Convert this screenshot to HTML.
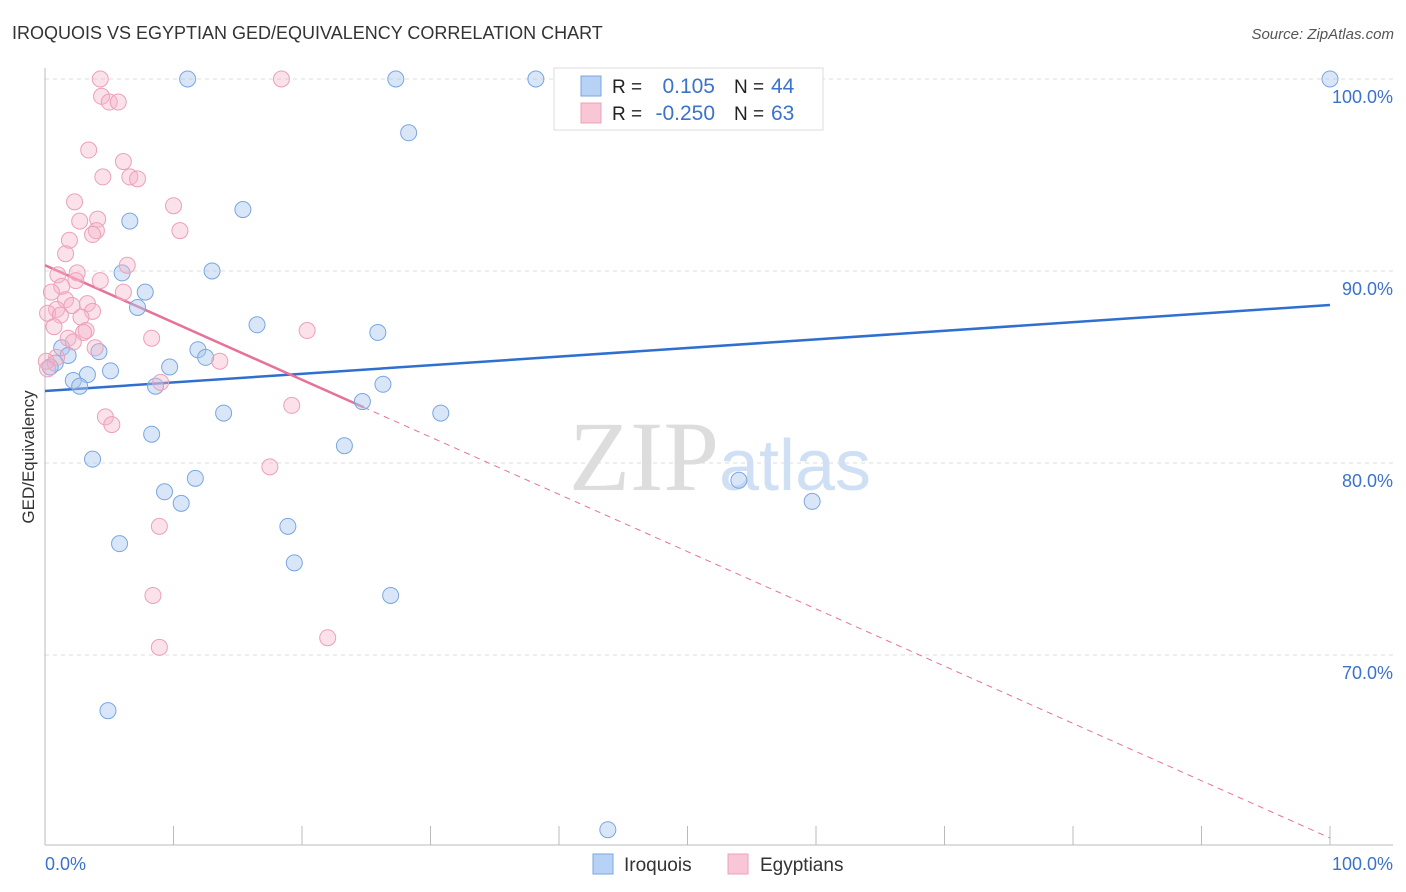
<!DOCTYPE html>
<html><head><meta charset="utf-8"><style>
body{margin:0;background:#fff;font-family:"Liberation Sans",sans-serif;}
svg{display:block}
</style></head><body>
<svg id="chart" width="1406" height="892" xmlns="http://www.w3.org/2000/svg">
<text x="12" y="39" font-size="18" fill="#333">IROQUOIS VS EGYPTIAN GED/EQUIVALENCY CORRELATION CHART</text>
<text x="1394" y="39" font-size="15" fill="#555" font-style="italic" text-anchor="end">Source: ZipAtlas.com</text>
<text x="720" y="490" font-size="100" fill="#ddd" text-anchor="middle" font-family="Liberation Serif, serif">ZIP<tspan fill="#cfe0f5" font-family="Liberation Sans, sans-serif" font-size="72">atlas</tspan></text>
<text transform="translate(34,457) rotate(-90)" font-size="17" fill="#333" text-anchor="middle">GED/Equivalency</text>
<g id="grid"></g><g id="ticks"></g><g id="lines"></g><g id="pts"></g>
<g>
<rect x="554" y="68" width="269" height="62" fill="#fff" stroke="#ddd"/>
<rect x="581" y="76" width="20" height="20" fill="#b8d2f5" stroke="#7aa6e0"/>
<rect x="581" y="103" width="20" height="20" fill="#f9c6d6" stroke="#eda0b8"/>
<text x="612" y="93" font-size="19" fill="#222">R =</text><text x="715" y="93" font-size="21" fill="#3a72cc" text-anchor="end">0.105</text>
<text x="734" y="93" font-size="19" fill="#222">N =</text><text x="771" y="93" font-size="21" fill="#3a72cc">44</text>
<text x="612" y="120" font-size="19" fill="#222">R =</text><text x="715" y="120" font-size="21" fill="#3a72cc" text-anchor="end">-0.250</text>
<text x="734" y="120" font-size="19" fill="#222">N =</text><text x="771" y="120" font-size="21" fill="#3a72cc">63</text>
</g>
<g>
<rect x="593" y="854" width="20" height="20" fill="#b8d2f5" stroke="#7aa6e0"/><text x="624" y="871" font-size="19" fill="#333">Iroquois</text>
<rect x="728" y="854" width="20" height="20" fill="#f9c6d6" stroke="#eda0b8"/><text x="760" y="871" font-size="19" fill="#333">Egyptians</text>
</g>
<text x="45" y="870" font-size="18" fill="#3a72cc">0.0%</text>
<text x="1393" y="870" font-size="18" fill="#3a72cc" text-anchor="end">100.0%</text>
</svg>
<script>
const yTicks=[100,90,80,70];
const blueX=[11.1,27.3,38.2,100,28.3,6.6,15.4,6.0,13.0,7.8,7.2,16.5,25.9,1.3,4.2,1.8,11.9,12.5,0.8,0.4,5.1,9.7,3.3,2.2,2.7,8.6,26.3,24.7,13.9,30.8,8.3,23.3,3.7,54.0,11.7,9.3,10.6,59.7,18.9,5.8,19.4,26.9,4.9,43.8];
const blueY=[100,100,100,100,97.2,92.6,93.2,89.9,90.0,88.9,88.1,87.2,86.8,86.0,85.8,85.6,85.9,85.5,85.2,85.0,84.8,85.0,84.6,84.3,84.0,84.0,84.1,83.2,82.6,82.6,81.5,80.9,80.2,79.1,79.2,78.5,77.9,78.0,76.7,75.8,74.8,73.1,67.1,60.9];
const pinkX=[4.3,18.4,4.4,5.0,5.7,3.4,6.1,4.5,6.6,7.2,2.3,10.0,2.7,4.1,10.5,4.0,3.7,1.9,1.6,6.4,2.5,1.0,2.4,4.3,1.3,0.5,6.1,1.6,3.3,2.1,0.9,3.7,0.2,1.2,2.8,0.7,3.2,20.4,3.0,1.8,8.3,2.2,3.9,13.6,0.9,0.1,0.2,9.0,19.2,4.7,5.2,17.5,8.9,8.4,22.0,8.9];
const pinkY=[100,100,99.1,98.8,98.8,96.3,95.7,94.9,94.9,94.8,93.6,93.4,92.6,92.7,92.1,92.1,91.9,91.6,90.9,90.3,89.9,89.8,89.5,89.5,89.2,88.9,88.9,88.5,88.3,88.2,88.0,87.9,87.8,87.7,87.6,87.1,86.9,86.9,86.8,86.5,86.5,86.3,86.0,85.3,85.5,85.3,84.9,84.2,83.0,82.4,82.0,79.8,76.7,73.1,70.9,70.4];
const blueTrend=[83.75,88.23];
const pinkTrend=[90.3,60.47];
const pinkSolidEnd=24.8;
const X=v=>45+v*12.85, Y=v=>79+(100-v)*19.2;
const NS="http://www.w3.org/2000/svg";
function mk(t,a,p){const e=document.createElementNS(NS,t);for(const k in a)e.setAttribute(k,a[k]);document.getElementById(p).appendChild(e);return e;}
yTicks.forEach(t=>{
 const l=mk('line',{x1:45,x2:1393,y1:Y(t),y2:Y(t),stroke:'#ddd','stroke-dasharray':'4,4'},'grid');
 
 
 const tx=mk('text',{x:1393,y:Y(t)+24,'font-size':18,fill:'#3a72cc','text-anchor':'end'},'grid');
 tx.textContent=t.toFixed(1)+'%';
 
 
});
mk('line',{x1:45,x2:45,y1:68,y2:845,stroke:'#bbb'},'ticks');
mk('line',{x1:45,x2:1393,y1:845,y2:845,stroke:'#bbb'},'ticks');
for(let i=0;i<=10;i++){const l=mk('line',{x1:X(i*10),x2:X(i*10),y1:826,y2:845,stroke:'#bbb'},'ticks');
 
 }
blueX.forEach((x,i)=>{const c=mk('circle',{cx:X(x),cy:Y(blueY[i]),r:8,fill:'rgba(170,200,240,0.45)',stroke:'#7aa6e0','stroke-width':1},'pts');
 
 });
pinkX.forEach((x,i)=>{const c=mk('circle',{cx:X(x),cy:Y(pinkY[i]),r:8,fill:'rgba(245,180,200,0.4)',stroke:'#eda0b8','stroke-width':1},'pts');
 
 });
const bl=mk('line',{x1:X(0),y1:Y(blueTrend[0]),x2:X(100),y2:Y(blueTrend[1]),stroke:'#2f6fd0','stroke-width':2.5},'lines');


const pv=x=>pinkTrend[0]+(pinkTrend[1]-pinkTrend[0])*x/100;
const pl=mk('line',{x1:X(0),y1:Y(pv(0)),x2:X(pinkSolidEnd),y2:Y(pv(pinkSolidEnd)),stroke:'#e8719a','stroke-width':2.5},'lines');


const pd=mk('line',{x1:X(pinkSolidEnd),y1:Y(pv(pinkSolidEnd)),x2:X(100),y2:Y(pv(100)),stroke:'#e8719a','stroke-width':1,'stroke-dasharray':'6,5'},'lines');


</script>
</body></html>
